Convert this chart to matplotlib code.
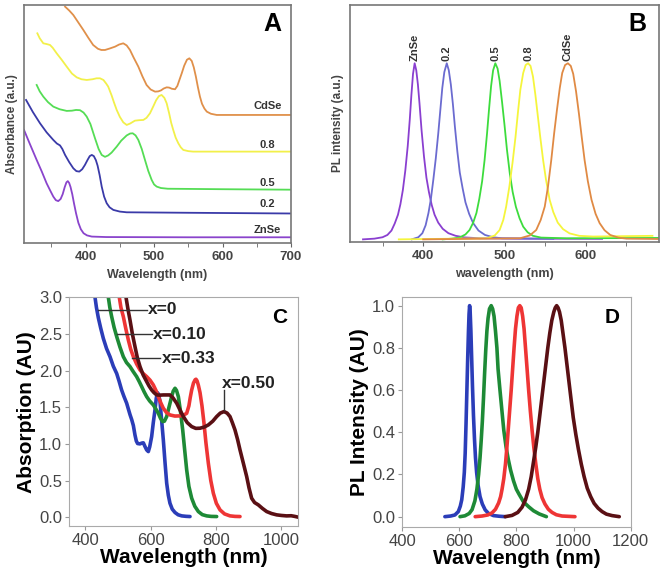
import matplotlib
matplotlib.use("Agg")
import matplotlib.pyplot as plt
from matplotlib.ticker import MultipleLocator

plt.rcParams['font.family'] = ['Liberation Sans', 'DejaVu Sans']

# ---------------- Panel A: absorbance (offset, a.u.) ----------------
a_znse_x = [310, 318, 328.5, 336, 343, 348, 352.8, 356.5, 360, 363.5, 366.5, 369.5, 372, 374, 376, 378, 380.5, 383,
            386, 389.4, 393, 397, 402, 409, 430, 550, 700]
a_znse_y = [.475, .42, .349, .30, .251, .222, .195, .18, .176, .185, .205, .235, .255, .26, .252, .235, .205, .167,
            .125, .085, .058, .041, .032, .027, .025, .024, .024]
a_02_x = [313, 323, 333.4, 343, 352.8, 358, 362.6, 366, 370, 376, 382, 386.5, 390.8, 395, 399, 403, 406, 409, 412,
          415, 417.5, 420.5, 423.5, 427, 430.8, 435, 440.5, 450, 460, 550, 700]
a_02_y = [.601, .55, .503, .465, .433, .418, .41, .395, .37, .34, .314, .302, .300, .31, .328, .35, .365, .37, .365,
          .348, .325, .285, .237, .195, .167, .15, .139, .132, .129, .127, .124]
a_05_x = [328.5, 333, 338.2, 345, 352.8, 362, 372.4, 380, 386, 391.8, 397, 401.6, 407, 413.7, 419, 423.5, 428.3, 433,
          438, 445.4, 452, 460, 465, 468.8, 473, 477, 482, 486.7, 491.5, 496.5, 500, 503.8, 510, 520, 600, 700]
a_05_y = [.664, .637, .615, .592, .573, .562, .555, .556, .559, .558, .548, .531, .50, .44, .395, .37, .362, .368,
          .38, .405, .43, .452, .46, .461, .452, .433, .395, .349, .303, .265, .246, .237, .231, .228, .226, .224]
a_08_x = [329.5, 333, 338.2, 343, 348, 352, 357.7, 365, 372.4, 380, 387, 394, 401.6, 410, 416, 421, 426, 430, 433,
          438, 441.5, 445.4, 450, 455, 460, 465, 472, 478, 484.3, 489, 494, 499, 503, 507, 511, 515, 518.4, 522, 525,
          528, 531.5, 535.4, 539, 542.7, 550, 557, 620, 700]
a_08_y = [.881, .86, .839, .836, .832, .82, .797, .77, .741, .712, .696, .688, .685, .688, .692, .692, .685, .67,
          .657, .62, .59, .559, .53, .507, .496, .502, .514, .516, .517, .526, .545, .575, .60, .617, .622, .61, .587,
          .545, .505, .475, .443, .419, .402, .391, .386, .384, .384, .384]
a_cdse_x = [370, 376, 382, 389, 396.7, 404, 411, 418, 423, 428.3, 435, 443, 449, 455, 460, 464.8, 470, 477, 483, 489,
            495, 501.4, 506, 510, 514, 518.4, 522, 526, 530.6, 534, 537, 540.4, 544, 548, 551.5, 555, 558, 561, 564,
            567, 570, 573.5, 577, 583, 591.5, 640, 700]
a_cdse_y = [.993, .977, .958, .928, .895, .862, .832, .816, .811, .811, .817, .825, .834, .839, .83, .811, .78, .741,
            .70, .664, .645, .636, .637, .641, .649, .654, .653, .648, .646, .66, .685, .713, .745, .77, .776, .765,
            .738, .70, .655, .615, .585, .565, .552, .543, .538, .538, .538]
a_labels = ["CdSe", "0.8", "0.5", "0.2", "ZnSe"]
a_label_y = [.574, .412, .254, .164, .055]

# ---------------- Panel B: PL (normalised) ----------------
b_znse_x = [326, 340, 350, 356, 361, 365, 369, 372, 375, 378, 381, 383.5, 385.5, 387.5, 389.5, 391.5, 393.5, 395.5,
            398, 401, 404, 407, 410.5, 414, 418.5, 424, 431, 440, 451, 470, 520, 620]
b_znse_y = [0, .004, .012, .025, .05, .09, .14, .2, .28, .39, .53, .68, .82, .94, 1.0, .96, .88, .77, .62, .47, .35,
            .27, .195, .14, .095, .06, .035, .02, .011, .006, .004, .003]
b_02_x = [386, 394, 399, 403, 406.5, 409.5, 412.5, 415.5, 418.5, 421, 423.5, 426, 429, 431.5, 434, 436.5, 439, 442,
          445, 448.5, 452, 456.5, 461.5, 468, 476, 486, 497, 560]
b_02_y = [0, .012, .035, .08, .15, .23, .34, .46, .6, .73, .86, .95, 1.0, .96, .88, .77, .64, .5, .38, .29, .21, .145,
          .092, .05, .025, .012, .006, .003]
b_05_x = [424, 435, 445, 452, 457, 461.5, 465.5, 469, 472.5, 475.5, 478.5, 481, 483.5, 486, 488.7, 491.5, 494, 497,
          500, 503, 506.5, 510, 514, 518.5, 523, 528.5, 535, 545, 576, 690]
b_05_y = [0, .004, .011, .028, .053, .095, .15, .23, .33, .45, .6, .74, .87, .96, 1.0, .97, .9, .78, .65, .51, .375,
          .27, .185, .12, .072, .04, .02, .01, .006, .008]
b_08_x = [370, 478, 488, 494, 498.5, 502, 506, 510, 513.5, 516.5, 519.5, 523, 526, 529, 532, 535, 538, 541, 544,
          547.5, 551, 555.5, 560, 565.5, 572, 580, 592, 609, 682]
b_08_y = [0, .006, .022, .053, .11, .185, .3, .44, .58, .72, .85, .945, .99, 1.0, .985, .925, .82, .7, .58, .45, .34,
          .225, .155, .095, .058, .034, .02, .016, .02]
b_cdse_x = [400, 519, 531, 539, 544.5, 549.5, 553.5, 557.5, 561, 564.5, 568, 571, 574.5, 578, 581.5, 584.5, 588,
            591.5, 595, 598.5, 602.5, 607, 612, 617, 623, 630, 640, 650, 690]
b_cdse_y = [0, .006, .022, .053, .11, .186, .3, .45, .6, .735, .86, .945, .99, 1.0, .985, .94, .84, .715, .58, .45,
            .33, .225, .145, .092, .052, .025, .01, .004, .002]
b_labels = ["ZnSe", "0.2", "0.5", "0.8", "CdSe"]
b_label_x = [389.6, 428.9, 488.7, 529, 578]

# ---------------- Panel C: absorption (AU) ----------------
c0_x = [429.6, 434, 439.8, 447, 455, 465, 475.5, 485.6, 496, 503, 511, 518, 526.5, 536.7, 542, 547, 552, 556, 560,
        567.3, 572, 577.5, 582, 587.7, 592.8, 597, 603, 608, 613.2, 617, 620.4, 624, 628.5, 633, 638.7, 644, 649, 654,
        659, 666, 674.5, 684, 695, 708, 720.4]
c0_y = [3.0, 2.86, 2.72, 2.58, 2.44, 2.30, 2.19, 2.06, 1.96, 1.86, 1.736, 1.65, 1.555, 1.40, 1.33, 1.25, 1.12, 1.04,
        1.005, 1.0, 1.01, 1.015, .97, .918, .895, .96, 1.1, 1.29, 1.464, 1.62, 1.70, 1.68, 1.58, 1.35, 1.055, .74,
        .464, .30, .191, .11, .064, .033, .018, .012, .009]
c1_x = [470.4, 475, 480.6, 488, 496, 506, 516.3, 526, 536.7, 546, 557, 565, 572.4, 580, 587.7, 597, 608, 616, 623.4,
        630, 636.7, 642, 649, 656, 664.2, 669, 674.5, 679, 684.7, 691, 698, 704, 710.2, 717, 725.5, 735, 745.9, 758,
        771.4, 785, 802]
c1_y = [3.0, 2.86, 2.736, 2.59, 2.464, 2.32, 2.19, 2.11, 2.055, 1.99, 1.918, 1.85, 1.782, 1.71, 1.645, 1.585, 1.532,
        1.475, 1.418, 1.35, 1.305, 1.31, 1.373, 1.50, 1.645, 1.72, 1.759, 1.73, 1.645, 1.45, 1.191, .92, .645, .42,
        .259, .15, .077, .035, .018, .011, .009]
c2_x = [504, 509, 516.3, 524, 531.6, 539, 547, 557, 567.3, 577, 587.7, 598, 608, 616, 623.4, 631, 638.7, 648, 659,
        674, 689.8, 700, 710.2, 717, 721, 725.5, 731, 736, 738.7, 742, 746, 751, 757, 763.2, 769, 776.5, 784, 791.8,
        801, 812.2, 826, 842.8, 858, 873.4]
c2_y = [3.0, 2.86, 2.736, 2.57, 2.418, 2.29, 2.19, 2.09, 2.009, 1.96, 1.918, 1.87, 1.805, 1.73, 1.645, 1.56, 1.486,
        1.43, 1.395, 1.38, 1.382, 1.39, 1.418, 1.52, 1.63, 1.736, 1.83, 1.875, 1.882, 1.86, 1.80, 1.70, 1.52, 1.282,
        1.02, .736, .50, .327, .19, .1, .045, .018, .011, .009]
c3_x = [524.5, 530, 536.7, 544, 552, 559, 567.3, 577, 587.7, 595, 603, 610, 618.3, 628, 638.7, 649, 659, 668, 679.6,
        690, 700, 712, 725.5, 738, 751, 764, 776.5, 790, 802, 813, 824.4, 834, 842.8, 850, 858, 866, 873.4, 884,
        893.8, 901, 909, 918, 929.5, 942, 955, 970, 985.6, 1000, 1016, 1030, 1040, 1052]
c3_y = [3.0, 2.85, 2.69, 2.50, 2.327, 2.18, 2.055, 1.94, 1.85, 1.79, 1.736, 1.70, 1.668, 1.665, 1.668, 1.668, 1.668,
        1.63, 1.555, 1.46, 1.373, 1.29, 1.236, 1.212, 1.214, 1.23, 1.259, 1.31, 1.373, 1.42, 1.441, 1.42, 1.373,
        1.29, 1.191, 1.06, .918, .73, .555, .40, .259, .20, .168, .12, .077, .05, .032, .024, .018, .02, .012, 0.0]
c_labels = ["x=0", "x=0.10", "x=0.33", "x=0.50"]

# ---------------- Panel D: PL intensity (AU) ----------------
d0_x = [550, 570, 585, 597, 604, 609, 614, 618, 621, 624, 627, 630, 632.5, 634.5, 636.5, 638.5, 641, 643.5, 646.5,
        650, 653.5, 657, 661, 666, 673, 681, 691, 703, 720, 740, 761]
d0_y = [0, .003, .008, .024, .05, .08, .14, .21, .3, .44, .6, .76, .88, .96, 1.0, .97, .88, .76, .62, .48, .37, .28,
        .21, .15, .095, .06, .032, .015, .005, .002, 0]
d1_x = [603, 620, 635, 645, 655, 662, 668, 673, 677, 681, 685, 689, 693, 697, 701, 706, 712, 717, 722, 727, 732, 736,
        742, 749, 756, 764, 772, 780, 790, 800, 810, 825, 843, 860, 880, 905]
d1_y = [0, .004, .015, .033, .075, .13, .2, .28, .36, .45, .56, .68, .79, .88, .94, .985, 1.0, .985, .95, .88, .8,
        .70, .61, .51, .41, .33, .27, .22, .17, .13, .105, .07, .047, .028, .013, 0]
d2_x = [656, 680, 700, 715, 727, 738, 745, 750, 756, 762, 767, 772, 777, 782, 787, 792, 797, 802, 807, 812, 817, 822,
        827, 832, 837, 843, 849, 855, 861, 868, 875, 882, 890, 900, 912, 925, 940, 960, 1005]
d2_y = [0, .003, .008, .018, .035, .065, .095, .13, .18, .25, .33, .42, .51, .6, .7, .8, .89, .95, .99, 1.0, .99, .95,
        .89, .8, .71, .6, .5, .41, .33, .25, .18, .13, .09, .06, .035, .02, .009, .003, 0]
d3_x = [761, 785, 805, 820, 832, 843, 852, 860, 868, 875, 882, 889, 896, 903, 910, 917, 924, 931, 936, 941, 946, 951,
        957, 963, 970, 977, 984, 991, 999, 1008, 1017, 1027, 1037, 1048, 1060, 1072, 1086, 1100, 1115, 1135, 1160]
d3_y = [0, .006, .02, .045, .08, .13, .19, .26, .33, .4, .48, .56, .64, .72, .8, .87, .93, .97, .99, 1.0, .99, .97,
        .93, .87, .8, .72, .64, .56, .47, .39, .32, .25, .19, .135, .095, .063, .04, .024, .012, .005, 0]

W, H = 666, 579
fig = plt.figure(figsize=(W / 100, H / 100), dpi=100)


def ax_px(l, t, r, b):
    return fig.add_axes([l / W, 1 - b / H, (r - l) / W, (b - t) / H])


grey_txt = '#444444'

# ---------- A ----------
axA = ax_px(24, 5, 291, 243)
colsA = ['#8a44cc', '#3a3aa8', '#55dd55', '#f2f04a', '#e0904a']
for xs, ys, c in zip([a_znse_x, a_02_x, a_05_x, a_08_x, a_cdse_x],
                     [a_znse_y, a_02_y, a_05_y, a_08_y, a_cdse_y], colsA):
    axA.plot(xs, ys, color=c, lw=1.3, solid_joinstyle='round')
axA.set_xlim(310, 700)
axA.set_ylim(0, 1)
axA.set_yticks([])
axA.xaxis.set_major_locator(MultipleLocator(100))
axA.xaxis.set_minor_locator(MultipleLocator(50))
axA.tick_params(axis='x', which='both', direction='out', length=3, color='#666666',
                labelsize=9.5, labelcolor=grey_txt, pad=3)
for lb in axA.get_xticklabels():
    lb.set_fontweight('bold')
for s in axA.spines.values():
    s.set_color('#777777'); s.set_linewidth(1.2)
axA.set_xlabel('Wavelength (nm)', fontsize=9, fontweight='bold', color=grey_txt, labelpad=4)
axA.set_ylabel('Absorbance (a.u.)', fontsize=8.5, fontweight='bold', color=grey_txt, labelpad=4)
for t, y in zip(a_labels, a_label_y):
    axA.text(666, y, t, ha='center', va='center', fontsize=8, fontweight='bold', color='#333333')
axA.text(0.93, 0.92, 'A', transform=axA.transAxes, ha='center', va='center', fontsize=18, fontweight='bold')

# ---------- B ----------
axB = ax_px(350, 5, 659, 242)
colsB = ['#8a3fd0', '#6b6bd0', '#3ddc3d', '#f5f53c', '#e08a44']
for xs, ys, c in zip([b_znse_x, b_02_x, b_05_x, b_08_x, b_cdse_x],
                     [b_znse_y, b_02_y, b_05_y, b_08_y, b_cdse_y], colsB):
    axB.plot(xs, ys, color=c, lw=1.3, solid_joinstyle='round')
axB.set_xlim(310, 690)
axB.set_ylim(-0.015, 1.331)
axB.set_yticks([])
axB.xaxis.set_major_locator(MultipleLocator(100))
axB.xaxis.set_minor_locator(MultipleLocator(50))
axB.tick_params(axis='x', which='both', direction='out', length=3, color='#666666',
                labelsize=9.5, labelcolor=grey_txt, pad=3)
for lb in axB.get_xticklabels():
    lb.set_fontweight('bold')
for s in axB.spines.values():
    s.set_color('#777777'); s.set_linewidth(1.2)
axB.set_xlabel('wavelength (nm)', fontsize=9, fontweight='bold', color=grey_txt, labelpad=4)
axB.set_ylabel('PL intensity (a.u.)', fontsize=8.5, fontweight='bold', color=grey_txt, labelpad=4)
for t, x in zip(b_labels, b_label_x):
    axB.text(x, 1.015, t, rotation=90, ha='center', va='bottom', fontsize=8, fontweight='bold', color='#333333')
axB.text(0.93, 0.92, 'B', transform=axB.transAxes, ha='center', va='center', fontsize=18, fontweight='bold')

# ---------- C ----------
axC = ax_px(69, 297.3, 297.7, 526)
colsCD = ['#2b3db8', '#1e8a36', '#ee3535', '#5a1014']
for xs, ys, c in zip([c0_x, c1_x, c2_x, c3_x], [c0_y, c1_y, c2_y, c3_y], colsCD):
    axC.plot(xs, ys, color=c, lw=2.6, solid_joinstyle='round', solid_capstyle='round')
axC.set_xlim(350, 1050)
axC.set_ylim(-0.12, 3.0)
axC.set_xticks([400, 600, 800, 1000])
axC.set_yticks([0, 0.5, 1.0, 1.5, 2.0, 2.5, 3.0])
axC.set_yticklabels(['0.0', '0.5', '1.0', '1.5', '2.0', '2.5', '3.0'])
axC.tick_params(direction='out', length=3, color='#999999', labelsize=12, labelcolor=grey_txt, pad=2)
for s in axC.spines.values():
    s.set_color('#aaaaaa'); s.set_linewidth(0.8)
axC.set_xlabel('Wavelength (nm)', fontsize=15, fontweight='bold', labelpad=0)
axC.set_ylabel('Absorption (AU)', fontsize=15, fontweight='bold', labelpad=2)
lead_col = '#333333'
axC.plot([439.8, 587.7], [2.827, 2.827], color=lead_col, lw=1)
axC.plot([495.9, 603], [2.495, 2.495], color=lead_col, lw=1)
axC.plot([541.8, 628.5], [2.168, 2.168], color=lead_col, lw=1)
axC.plot([824.4, 824.4], [1.464, 1.736], color=lead_col, lw=1)
axC.text(592, 2.827, c_labels[0], ha='left', va='center', fontsize=12.5, fontweight='bold', color='#222222')
axC.text(607, 2.495, c_labels[1], ha='left', va='center', fontsize=12.5, fontweight='bold', color='#222222')
axC.text(633, 2.168, c_labels[2], ha='left', va='center', fontsize=12.5, fontweight='bold', color='#222222')
axC.text(899, 1.827, c_labels[3], ha='center', va='center', fontsize=12.5, fontweight='bold', color='#222222')
axC.text(0.92, 0.91, 'C', transform=axC.transAxes, ha='center', va='center', fontsize=15, fontweight='bold')

# ---------- D ----------
axD = ax_px(402, 297, 630.7, 527)
for xs, ys, c in zip([d0_x, d1_x, d2_x, d3_x], [d0_y, d1_y, d2_y, d3_y], colsCD):
    axD.plot(xs, ys, color=c, lw=2.6, solid_joinstyle='round', solid_capstyle='round')
axD.set_xlim(400, 1200)
axD.set_ylim(-0.049, 1.041)
axD.set_xticks([400, 600, 800, 1000, 1200])
axD.set_yticks([0, 0.2, 0.4, 0.6, 0.8, 1.0])
axD.set_yticklabels(['0.0', '0.2', '0.4', '0.6', '0.8', '1.0'])
axD.tick_params(direction='out', length=3, color='#999999', labelsize=12, labelcolor=grey_txt, pad=2)
for s in axD.spines.values():
    s.set_color('#aaaaaa'); s.set_linewidth(0.8)
axD.set_xlabel('Wavelength (nm)', fontsize=15, fontweight='bold', labelpad=0)
axD.set_ylabel('PL Intensity (AU)', fontsize=15, fontweight='bold', labelpad=2)
axD.text(0.92, 0.91, 'D', transform=axD.transAxes, ha='center', va='center', fontsize=15, fontweight='bold')

fig.savefig('out.png', dpi=100)
